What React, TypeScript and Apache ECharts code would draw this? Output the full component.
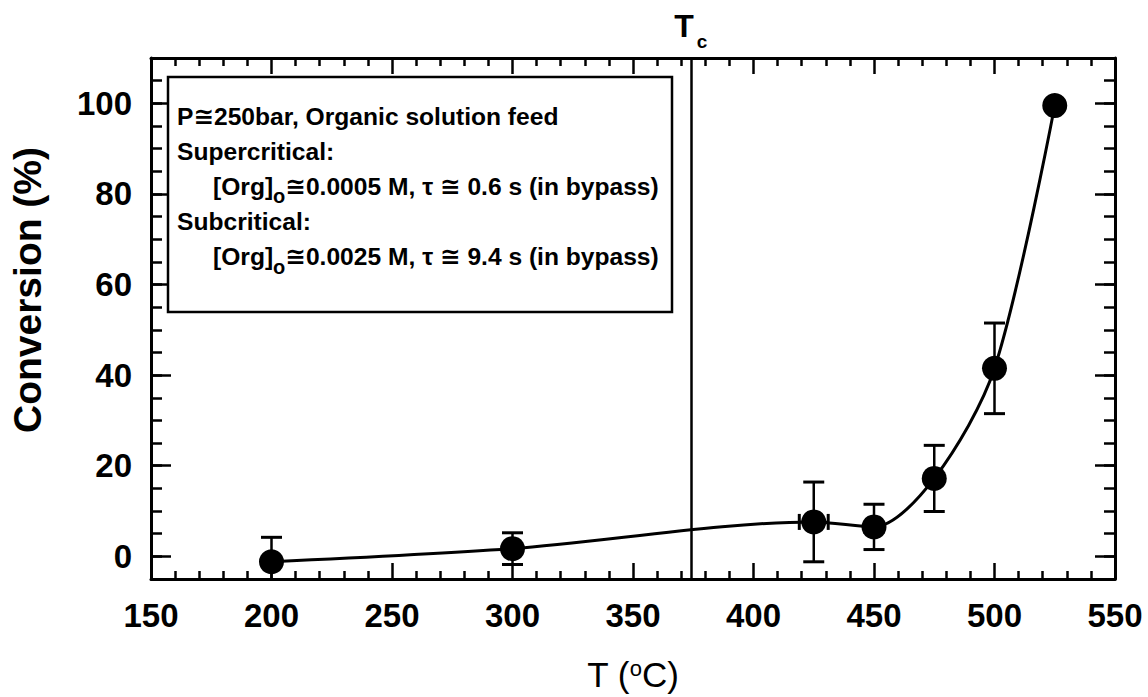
import React, { useEffect, useRef } from "react";
import * as echarts from "echarts";

// Measured conversion vs. reactor temperature
const temperatures = [200, 300, 425, 450, 475, 500, 525];
const conversion = [-1.2, 1.7, 7.6, 6.5, 17.2, 41.5, 99.5];
const conversionError = [5.4, 3.5, 8.8, 5.0, 7.3, 10.0, 0];
const temperatureError = [0, 0, 6, 0, 0, 0, 0];

// Critical temperature of water (°C)
const criticalTemperature = 374;

// Axis ranges and tick values
const xMin = 150;
const xMax = 550;
const xStep = 50;
const yMin = -5;
const yMax = 110;
const yMajorTicks = [0, 20, 40, 60, 80, 100];
const yMinorStep = 5;

// Conditions box
const infoLines: (string | [string, string, string])[] = [
  "P≅250bar, Organic solution feed",
  "Supercritical:",
  ["[Org]", "o", "≅0.0005 M, τ ≅ 0.6 s (in bypass)"],
  "Subcritical:",
  ["[Org]", "o", "≅0.0025 M, τ ≅ 9.4 s (in bypass)"],
];

const FONT = "'Liberation Sans', Arial, Helvetica, 'DejaVu Sans', sans-serif";
const BLACK = "#000";

export default function App() {
  const ref = useRef<HTMLDivElement>(null);

  useEffect(() => {
    if (!ref.current) return;
    const chart = echarts.init(ref.current, undefined, { renderer: "svg" });

    const points = temperatures.map((t, i) => [t, conversion[i]]);
    const errors = temperatures.map((t, i) => [
      t,
      conversion[i],
      conversionError[i],
      temperatureError[i],
    ]);

    const axisLine = { show: true, onZero: false, lineStyle: { color: BLACK, width: 3 } };
    const tickStyle = { color: BLACK, width: 2.5 };
    const tickLabel = {
      color: BLACK,
      fontSize: 33,
      fontWeight: "bold" as const,
      fontFamily: FONT,
    };

    const xAxisBase = {
      type: "value" as const,
      min: xMin,
      max: xMax,
      interval: xStep,
      axisLine,
      axisTick: { show: true, inside: true, length: 16, lineStyle: tickStyle },
      minorTick: { show: true, splitNumber: 5, length: 8, lineStyle: tickStyle },
      splitLine: { show: false },
    };

    const yMajor = (position: "left" | "right", labels: boolean) => ({
      type: "value" as const,
      position,
      min: yMin,
      max: yMax,
      axisLine,
      axisTick: {
        show: true,
        inside: true,
        length: 20,
        customValues: yMajorTicks,
        lineStyle: tickStyle,
      },
      axisLabel: labels
        ? { show: true, customValues: yMajorTicks, margin: 19, ...tickLabel }
        : { show: false },
      splitLine: { show: false },
    });

    const yMinor = (position: "left" | "right") => ({
      type: "value" as const,
      position,
      min: yMin,
      max: yMax,
      interval: yMinorStep,
      axisLine: { show: false },
      axisTick: { show: true, inside: true, length: 11, lineStyle: tickStyle },
      axisLabel: { show: false },
      splitLine: { show: false },
    });

    const capHalf = 10.5;

    const infoElements: any[] = infoLines.map((line, i) => {
      const indented = Array.isArray(line);
      const text = indented
        ? `{a|${line[0]}}{s|${line[1]}}{a|${line[2]}}`
        : `{a|${line}}`;
      return {
        type: "text",
        x: indented ? 213 : 177,
        y: 104 + i * 35.2,
        z: 2,
        style: {
          text,
          fill: BLACK,
          align: "left",
          verticalAlign: "top",
          rich: {
            a: {
              fontSize: 24.6,
              fontWeight: "bold",
              fontFamily: FONT,
              height: 24,
              lineHeight: 24,
              verticalAlign: "top",
              color: BLACK,
            },
            s: {
              fontSize: 20,
              fontWeight: "bold",
              fontFamily: FONT,
              height: 20,
              lineHeight: 32,
              verticalAlign: "bottom",
              color: BLACK,
            },
          },
        },
      };
    });

    chart.setOption({
      animation: false,
      backgroundColor: "#fff",
      grid: {
        left: 151,
        right: 33,
        top: 58,
        bottom: 118,
        containLabel: false,
        outerBoundsMode: "none",
      },
      xAxis: [
        {
          ...xAxisBase,
          position: "bottom",
          axisLabel: { show: true, margin: 20, ...tickLabel },
          name: "{a|T (}{s|o}{a|C)}",
          nameLocation: "middle",
          nameGap: 78,
          nameTextStyle: {
            rich: {
              a: { fontSize: 35, fontFamily: FONT, color: BLACK, height: 35, lineHeight: 35, verticalAlign: "bottom" },
              s: { fontSize: 22, fontFamily: FONT, color: BLACK, height: 22, lineHeight: 22, verticalAlign: "top" },
            },
          },
        },
        {
          ...xAxisBase,
          position: "top",
          axisLabel: { show: false },
        },
      ],
      yAxis: [yMajor("left", true), yMinor("left"), yMajor("right", false), yMinor("right")],
      graphic: [
        {
          type: "rect",
          shape: { x: 168, y: 77, width: 504, height: 235 },
          style: { fill: "#fff", stroke: BLACK, lineWidth: 2.5 },
          z: 1,
        },
        ...infoElements,
        {
          type: "text",
          x: 27,
          y: 290,
          rotation: Math.PI / 2,
          style: {
            text: "Conversion (%)",
            fill: BLACK,
            font: `bold 39px ${FONT}`,
            align: "center",
            verticalAlign: "middle",
          },
        },
      ],
      series: [
        {
          type: "custom",
          name: "error bars",
          clip: true,
          z: 3,
          data: errors,
          renderItem: (_params: any, api: any) => {
            const x = api.value(0);
            const y = api.value(1);
            const ey = api.value(2);
            const ex = api.value(3);
            const style = { stroke: BLACK, lineWidth: 2.5, fill: "none" };
            const capStyle = { stroke: BLACK, lineWidth: 3, fill: "none" };
            const children: any[] = [];
            if (ey > 0) {
              const top = api.coord([x, y + ey]);
              const bot = api.coord([x, y - ey]);
              children.push(
                { type: "line", shape: { x1: top[0], y1: top[1], x2: bot[0], y2: bot[1] }, style },
                { type: "line", shape: { x1: top[0] - capHalf, y1: top[1], x2: top[0] + capHalf, y2: top[1] }, style: capStyle },
                { type: "line", shape: { x1: bot[0] - capHalf, y1: bot[1], x2: bot[0] + capHalf, y2: bot[1] }, style: capStyle }
              );
            }
            if (ex > 0) {
              const l = api.coord([x - ex, y]);
              const r = api.coord([x + ex, y]);
              const h = 8;
              children.push(
                { type: "line", shape: { x1: l[0], y1: l[1], x2: r[0], y2: r[1] }, style },
                { type: "line", shape: { x1: l[0], y1: l[1] - h, x2: l[0], y2: l[1] + h }, style: capStyle },
                { type: "line", shape: { x1: r[0], y1: r[1] - h, x2: r[0], y2: r[1] + h }, style: capStyle }
              );
            }
            return { type: "group", children };
          },
        },
        {
          type: "line",
          name: "trend",
          data: points,
          smooth: 0.3,
          symbol: "none",
          z: 4,
          lineStyle: { color: BLACK, width: 3 },
          markLine: {
            silent: true,
            symbol: ["none", "none"],
            lineStyle: { color: BLACK, width: 2.5, type: "solid" },
            label: {
              show: true,
              position: "end",
              distance: 7,
              formatter: "{t|T}{c|c}",
              rich: {
                t: { fontSize: 32, fontWeight: "bold", fontFamily: FONT, color: BLACK, height: 32, lineHeight: 32, verticalAlign: "top" },
                c: { fontSize: 19, fontWeight: "bold", fontFamily: FONT, color: BLACK, height: 19, lineHeight: 41, verticalAlign: "bottom", padding: [0, 0, 0, 3] },
              },
            },
            data: [{ xAxis: criticalTemperature }],
          },
        },
        {
          type: "scatter",
          name: "conversion",
          data: points,
          symbol: "circle",
          symbolSize: 25,
          z: 5,
          itemStyle: { color: BLACK, opacity: 1 },
        },
      ],
    });

    return () => chart.dispose();
  }, []);

  return (
    <div
      ref={ref}
      style={{ position: "fixed", left: 0, top: 0, width: 1148, height: 697, background: "#fff" }}
    />
  );
}
